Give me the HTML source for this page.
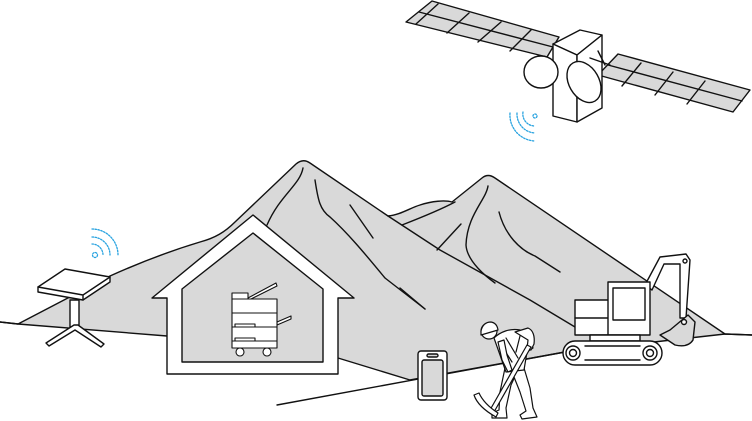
<!DOCTYPE html>
<html><head><meta charset="utf-8"><style>html,body{margin:0;padding:0;background:#fff}svg{display:block}</style></head>
<body>
<svg width="752" height="421" viewBox="0 0 752 421" xmlns="http://www.w3.org/2000/svg" fill="none" stroke="#111" stroke-width="1.4" stroke-linejoin="round" stroke-linecap="round">
<path d="M0,322 L18,324 L110,276 C150,258 180,248 200,242 C215,238 225,232 235,222 L296,164 Q303,158 310,163 L388,216 C400,215 410,208 420,205 C432,201 445,200 452,202 L482,178 Q488,173 495,178 L725,334 L752,335 L725,334 L565,352 L410,380 L338,358 L167,336 L18,324 Z" fill="#d9d9d9"/>
<path d="M0,322 L18,324"/>
<path d="M725,334 L752,335"/>
<path d="M277,405 L565,352"/>
<path d="M303,168 C300,185 280,195 267,225"/>
<path d="M315,180 C318,200 320,210 330,217 C350,235 370,260 385,278 L425,309"/>
<path d="M350,205 L373,238"/>
<path d="M388,216 L440,250 L530,300 L575,327"/>
<path d="M402,225 C420,218 440,210 455,202"/>
<path d="M437,250 L461,224"/>
<path d="M488,186 C486,200 467,215 466,245 C467,262 488,278 495,283"/>
<path d="M499,212 C505,235 520,250 535,256 L560,272"/>
<path d="M400,288 L425,309"/>
<path d="M253,215 L354,298 L338,298 L338,374 L167,374 L167,298 L152,298 Z" fill="#fff"/>
<path d="M253,233 L323,289 L323,362 L182,362 L182,289 Z" fill="#d9d9d9"/>
<g stroke-width="1.1" fill="#fff">
<path d="M248,298 L276,283 L277,286 L249,300 Z"/>
<path d="M277,322 L291,316 L291,319 L277,325 Z"/>
<rect x="232" y="293" width="16" height="6"/>
<rect x="232" y="299" width="45" height="49"/>
<path d="M232,313 H277 M232,327 H277 M232,341 H277"/>
<rect x="235" y="324" width="20" height="3"/>
<rect x="235" y="338" width="20" height="3"/>
<circle cx="240" cy="352" r="4"/><circle cx="267" cy="352" r="4"/>
</g>
<g fill="#fff">
<path d="M38,287 L65,269 L110,277 L110,282 L83,300 L38,292 Z"/>
<path d="M38,287 L83,295 L110,277 M83,295 L83,300"/>
<rect x="70" y="300" width="9" height="27"/>
<path d="M74,325 L46,343 L49,346 L75,330 L101,347 L104,344 L78,325 Z"/>
</g>
<g stroke="#29a3e0" stroke-width="1.3" stroke-dasharray="1.5 1.5">
<circle cx="95" cy="255" r="2.5"/>
<path d="M92,244 A11,11 0 0 1 103,255"/>
<path d="M92,237 A18,18 0 0 1 110,255"/>
<path d="M92,229 A26,26 0 0 1 118,255"/>
</g>
<g fill="#d9d9d9">
<path d="M406,22 L432,1 L559,37 L547,57 Z"/>
<path d="M598,75 L618,54 L750,90 L733,112 Z"/>
</g>
<path d="M419,12 L553,47 M438,4 L416,24 M469,13 L447,33 M501,22 L478,42 M531,30 L510,51"/>
<path d="M608,65 L742,101 M641,63 L622,86 M673,72 L655,95 M705,81 L687,104"/>
<g fill="#fff">
<path d="M580,30 L602,35 L577,55 L553,44 Z"/>
<path d="M553,44 L577,55 L577,122 L553,116 Z"/>
<path d="M577,55 L602,35 L602,108 L577,122 Z"/>
<ellipse cx="541" cy="72" rx="17" ry="16"/>
<ellipse cx="584" cy="82" rx="15" ry="22" transform="rotate(-30 584 82)"/>
</g>
<path d="M590,58 L610,65 M598,51 L605,65"/>
<g stroke="#29a3e0" stroke-width="1.3" stroke-dasharray="1.5 1.5">
<circle cx="535" cy="116" r="2"/>
<path d="M523,112 A12,12 0 0 0 535,126"/>
<path d="M517,113 A19,19 0 0 0 535,133"/>
<path d="M510,113 A26,26 0 0 0 535,141"/>
</g>
<rect x="418" y="351" width="29" height="49" rx="3" fill="#fff"/>
<rect x="422" y="360" width="21" height="36" rx="2" fill="#d9d9d9"/>
<rect x="427" y="354" width="11" height="3" rx="1.5" fill="#d9d9d9"/>
<g fill="#fff">
<path d="M645,285 L660,257 L686,254 L690,260 L686,318 L680,318 L680,264 L664,264 L652,290 Z"/>
<path d="M670,330 L688,315 L695,322 L693,340 Q688,348 675,345 L660,335 Z" fill="#d9d9d9"/>
<circle cx="684" cy="322" r="2.5"/>
<circle cx="685" cy="261" r="2"/>
<rect x="575" y="300" width="35" height="35"/>
<path d="M575,318 H610"/>
<rect x="608" y="282" width="42" height="53"/>
<rect x="613" y="288" width="32" height="32"/>
<rect x="590" y="335" width="50" height="6"/>
<rect x="563" y="341" width="99" height="24" rx="12"/>
<circle cx="573" cy="353" r="7"/><circle cx="573" cy="353" r="3.5"/>
<circle cx="650" cy="353" r="7"/><circle cx="650" cy="353" r="3.5"/>
<path d="M585,346 H640 M585,360 H640"/>
</g>
<!-- worker -->
<g fill="#fff" stroke-width="1.2">
<!-- legs -->
<path d="M505,368 L500,392 L499,410 L492,413 L492,418 L507,418 L506,408 L511,385 L517,372 Z"/>
<path d="M512,372 L520,392 L526,411 L520,415 L522,419 L537,417 L533,408 L530,388 L524,368 Z"/>
<!-- torso -->
<path d="M494,338 C500,332 510,328 520,330 L530,338 L533,348 L527,352 L524,370 L506,372 L500,355 Z"/>
<path d="M500,343 L512,362 M506,338 L518,358 M520,336 L516,352"/>
<!-- back arm -->
<path d="M515,332 L528,328 C533,330 535,336 534,344 L531,350 L527,349 L528,340 Z"/>
<!-- handle -->
<path d="M531,347 L527,345 L490,410 L494,412 Z"/>
<!-- front arm -->
<path d="M498,342 L502,360 L508,372 L512,370 L507,355 L504,340 Z"/>
<!-- pick head -->
<path d="M474,395 Q478,407 496,417 L498,413 Q484,404 479,393 Z"/>
<!-- head & helmet -->
<circle cx="489" cy="331" r="8"/>
<path d="M481,331 Q483,322 491,322 Q497,323 498,330 L481,335 Z"/>
</g>
</svg>
</body></html>
